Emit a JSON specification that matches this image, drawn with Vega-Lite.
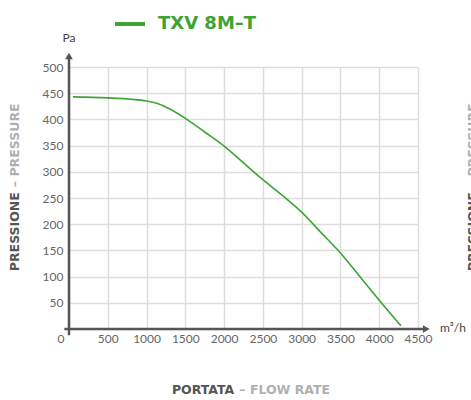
{
  "$schema": "https://vega.github.io/schema/vega-lite/v6.json",
  "width": 349,
  "height": 262,
  "autosize": {"type": "none"},
  "padding": {"left": 69, "top": 67, "right": 53, "bottom": 71},
  "background": "white",
  "config": {
    "view": {"stroke": null},
    "axis": {
      "domain": false,
      "ticks": false,
      "tickSize": 0,
      "grid": true,
      "gridColor": "#dddddd",
      "gridWidth": 1.5,
      "labelFont": "Lato",
      "labelFontSize": 12,
      "labelColor": "#666666",
      "title": null
    },
    "legend": {
      "labelFont": "DejaVu Sans",
      "labelFontWeight": "bold",
      "labelFontSize": 18,
      "labelColor": "#3da434"
    }
  },
  "encoding": {
    "x": {
      "field": "x",
      "type": "quantitative",
      "scale": {"domain": [0, 4500], "nice": false, "zero": false},
      "axis": {
        "values": [0, 500, 1000, 1500, 2000, 2500, 3000, 3500, 4000, 4500],
        "format": "d",
        "labelExpr": "datum.value == 0 ? '' : datum.label",
        "labelPadding": 4,
        "labelFlush": false,
        "labelOverlap": false
      }
    },
    "y": {
      "field": "y",
      "type": "quantitative",
      "scale": {"domain": [0, 500], "nice": false, "zero": false},
      "axis": {
        "values": [0, 50, 100, 150, 200, 250, 300, 350, 400, 450, 500],
        "format": "d",
        "labelOffset": {"expr": "datum.value == 0 ? 9 : 0"},
        "labelPadding": {"expr": "datum.value == 0 ? 5 : 6"},
        "labelOverlap": false
      }
    }
  },
  "layer": [
    {
      "data": {"values": [
        {"x": 50, "y": 443, "series": "TXV 8M–T"},
        {"x": 500, "y": 441, "series": "TXV 8M–T"},
        {"x": 800, "y": 438.5, "series": "TXV 8M–T"},
        {"x": 1000, "y": 435, "series": "TXV 8M–T"},
        {"x": 1150, "y": 430, "series": "TXV 8M–T"},
        {"x": 1300, "y": 420, "series": "TXV 8M–T"},
        {"x": 1500, "y": 402, "series": "TXV 8M–T"},
        {"x": 1750, "y": 376, "series": "TXV 8M–T"},
        {"x": 2000, "y": 349, "series": "TXV 8M–T"},
        {"x": 2250, "y": 317, "series": "TXV 8M–T"},
        {"x": 2500, "y": 285, "series": "TXV 8M–T"},
        {"x": 2750, "y": 255, "series": "TXV 8M–T"},
        {"x": 3000, "y": 223, "series": "TXV 8M–T"},
        {"x": 3250, "y": 184, "series": "TXV 8M–T"},
        {"x": 3500, "y": 145, "series": "TXV 8M–T"},
        {"x": 3750, "y": 100, "series": "TXV 8M–T"},
        {"x": 4000, "y": 55, "series": "TXV 8M–T"},
        {"x": 4280, "y": 6, "series": "TXV 8M–T"}
      ]},
      "mark": {"type": "line", "strokeWidth": 1.6, "interpolate": "monotone"},
      "encoding": {
        "color": {
          "field": "series",
          "type": "nominal",
          "scale": {"range": ["#3da434"]},
          "legend": {
            "title": null,
            "orient": "none",
            "legendX": 44,
            "legendY": -60,
            "padding": 0,
            "symbolType": "stroke",
            "symbolSize": 900,
            "symbolStrokeWidth": 4,
            "labelOffset": 11
          }
        }
      }
    },
    {
      "data": {"values": [
        {"x": -60, "y": 0, "x2": 4607, "y2": 0},
        {"x": 0, "y": -12, "x2": 0, "y2": 521}
      ]},
      "mark": {"type": "rule", "color": "#555555", "strokeWidth": 2.5},
      "encoding": {
        "x2": {"field": "x2"},
        "y2": {"field": "y2"}
      }
    },
    {
      "data": {"values": [
        {"x": 4607, "y": 0, "shape": "triangle-right"},
        {"x": 0, "y": 521, "shape": "triangle-up"}
      ]},
      "mark": {"type": "point", "filled": true, "color": "#555555", "opacity": 1, "size": 60},
      "encoding": {
        "shape": {"field": "shape", "type": "nominal", "scale": null}
      }
    },
    {
      "data": {"values": [
        {"x": -692, "y": 265, "t": "PRESSIONE"},
        {"x": 5215, "y": 265, "t": "PRESSIONE"}
      ]},
      "mark": {"type": "text", "angle": 270, "align": "right", "baseline": "middle", "dx": -2, "font": "DejaVu Sans", "fontWeight": "bold", "fontSize": 12.5, "color": "#555555"},
      "encoding": {"text": {"field": "t"}}
    },
    {
      "data": {"values": [
        {"x": -692, "y": 265, "t": "– PRESSURE"},
        {"x": 5215, "y": 265, "t": "– PRESSURE"}
      ]},
      "mark": {"type": "text", "angle": 270, "align": "left", "baseline": "middle", "dx": 3, "font": "DejaVu Sans", "fontWeight": "bold", "fontSize": 12.5, "color": "#b0b0b0"},
      "encoding": {"text": {"field": "t"}}
    },
    {
      "data": {"values": [
        {"x": 2157, "y": -116, "t": "PORTATA"}
      ]},
      "mark": {"type": "text", "align": "right", "baseline": "middle", "dx": -2, "font": "DejaVu Sans", "fontWeight": "bold", "fontSize": 12.5, "color": "#555555"},
      "encoding": {"text": {"field": "t"}}
    },
    {
      "data": {"values": [
        {"x": 2157, "y": -116, "t": "– FLOW RATE"}
      ]},
      "mark": {"type": "text", "align": "left", "baseline": "middle", "dx": 3, "font": "DejaVu Sans", "fontWeight": "bold", "fontSize": 12.5, "color": "#b0b0b0"},
      "encoding": {"text": {"field": "t"}}
    },
    {
      "data": {"values": [
        {"x": 0, "y": 555, "t": "Pa"},
        {"x": 4950, "y": 2, "t": "m³/h"}
      ]},
      "mark": {"type": "text", "align": "center", "baseline": "middle", "font": "Lato", "fontSize": 12, "color": "#444444"},
      "encoding": {"text": {"field": "t"}}
    }
  ]
}
